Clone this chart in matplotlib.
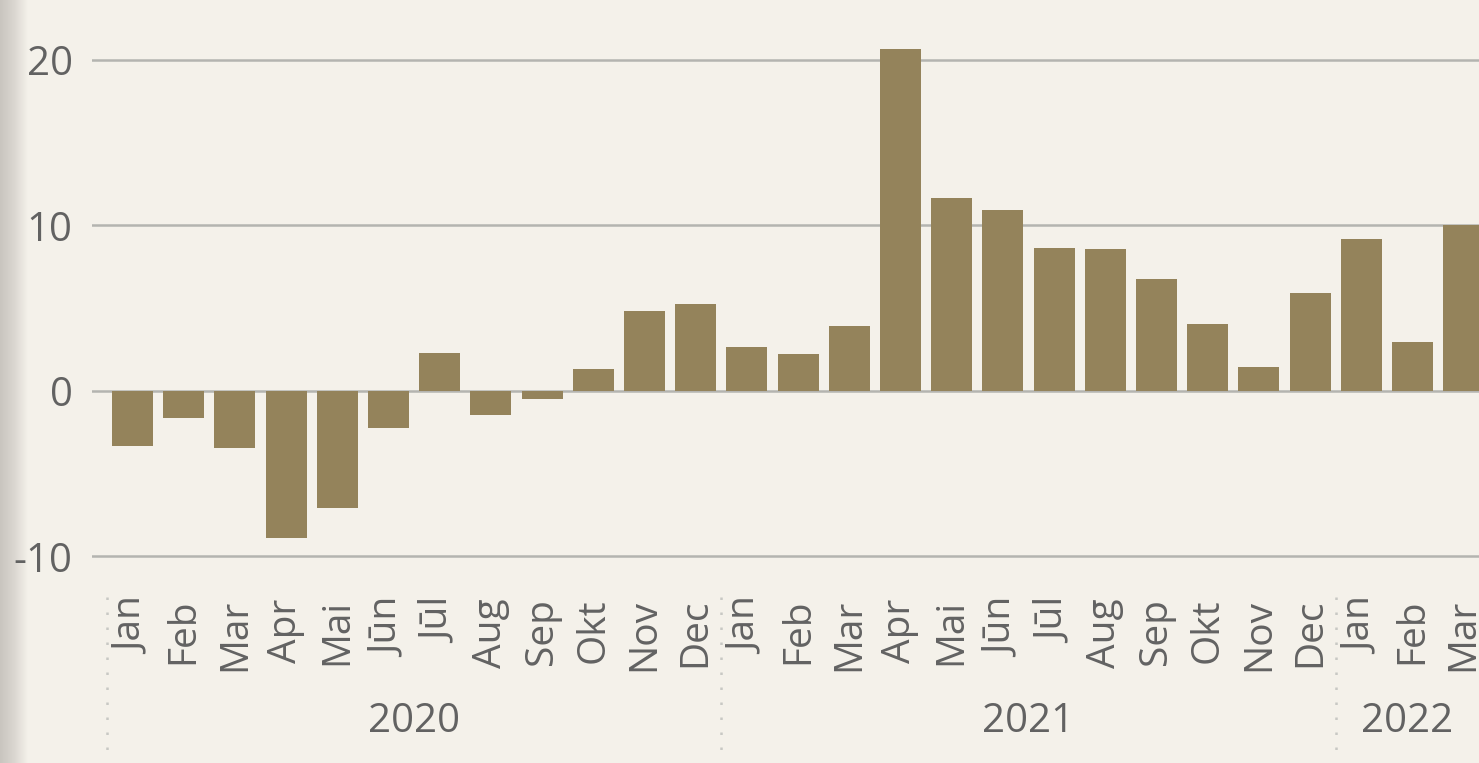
import numpy as np
import matplotlib.pyplot as plt
import matplotlib.transforms as transforms
from matplotlib.colors import LinearSegmentedColormap

months = ['Jan', 'Feb', 'Mar', 'Apr', 'Mai', 'Jūn', 'Jūl', 'Aug', 'Sep', 'Okt', 'Nov', 'Dec',
          'Jan', 'Feb', 'Mar', 'Apr', 'Mai', 'Jūn', 'Jūl', 'Aug', 'Sep', 'Okt', 'Nov', 'Dec',
          'Jan', 'Feb', 'Mar']
years = ['2020', '2021', '2022']
months_per_year = [12, 12, 3]
values = [-3.3, -1.65, -3.45, -8.9, -7.1, -2.25, 2.3, -1.45, -0.5, 1.35, 4.85, 5.25,
          2.65, 2.25, 3.95, 20.65, 11.65, 10.95, 8.65, 8.6, 6.75, 4.05, 1.45, 5.9,
          9.2, 2.95, 10.0]

bg = '#F4F1EA'
bar_color = '#94835B'
text_color = '#626262'
grid_color = '#B4B4B0'

plt.rcParams['font.family'] = ['Open Sans', 'DejaVu Sans']

fig = plt.figure(figsize=(14.79, 7.63), dpi=100)
fig.patch.set_facecolor(bg)

# shadow strip on the left edge
sh = fig.add_axes([0, 0, 28 / 1479, 1])
grad = np.linspace(0, 1, 100).reshape(1, -1)
cmap = LinearSegmentedColormap.from_list('sh', ['#C9C5BF', '#DAD6D0', bg])
sh.imshow(grad, aspect='auto', cmap=cmap, extent=[0, 1, 0, 1])
sh.axis('off')

ax = fig.add_axes([92 / 1479, 188 / 763, 1 - 92 / 1479, 545 / 763])
ax.set_facecolor(bg)
x = np.arange(len(values))
ax.bar(x, values, width=0.8, color=bar_color, zorder=3)

ax.set_xlim(-0.79, 26.3)
ax.set_ylim(-11.12, 21.81)
ax.set_yticks([-10, 0, 10, 20])
ax.set_yticklabels(['-10', '0', '10', '20'])
ax.yaxis.grid(True, color=grid_color, linewidth=1.8, zorder=1)
for s in ax.spines.values():
    s.set_visible(False)
ax.tick_params(axis='y', length=0, pad=14, labelsize=29, labelcolor=text_color)
ax.tick_params(axis='x', length=0, pad=17, labelsize=28, labelcolor=text_color)
ax.set_xticks(x)
ax.set_xticklabels(months, rotation=90)

# year labels and separators
trans = transforms.blended_transform_factory(ax.transData, ax.transAxes)
start = 0
xr = ax.get_xlim()[1]
for yr, n in zip(years, months_per_year):
    left = start - 0.5
    right = min(start + n - 0.5, xr)
    ax.plot([left, left], [-22 / 545, -180 / 545], transform=trans, clip_on=False,
            color='#C8C8C4', linestyle=(0, (1, 5)), linewidth=1.8)
    ax.text((left + right) / 2, -0.27, yr, transform=trans, ha='center', va='center',
            fontsize=29, color=text_color)
    start += n

fig.savefig('out.png', dpi=100, facecolor=bg)
